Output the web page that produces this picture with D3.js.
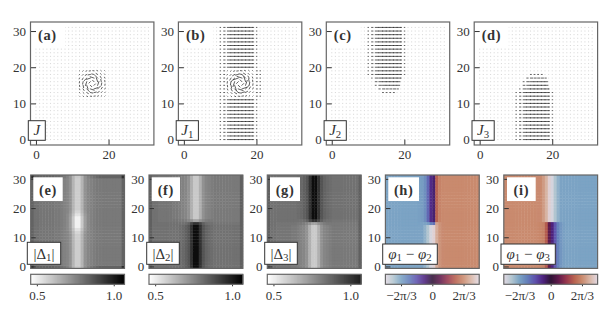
<!DOCTYPE html>
<html lang="en">
  <head>
    <meta charset="UTF-8" />
    <title>Currents and order parameters</title>
    <script src="https://d3js.org/d3.v7.min.js"></script>
    <style>
      html, body { margin: 0; padding: 0; background: #fff; }
      svg { display: block; }
      text { font-family: "Liberation Serif", serif; fill: #333; }
      .tick text { font-size: 13px; }
    </style>
  </head>
  <body>
    <svg id="canvas"></svg>
  </body>
  <script>
    // --- data ---
    let gridIndex = d3.range(32);
    let topTicks = [0, 20];
    let sideTicks = [0, 10, 20, 30];

    // current magnitude along a row, one digit per column (9 = full)
    let quiet = "00000000000000000000000000000000";
    let far = "00000000001389999982100000000000";
    let fade1 = "00000000000000222200000000000000";
    let fade2 = "00000000000003555530000000000000";
    let fade3 = "00000000000026888860000000000000";
    let fade4 = "00000000000048999970000000000000";
    let fade5 = "00000000000169999981000000000000";
    let side = "00000000001200000000210000000000";

    // which profile each row 0..31 uses
    let rowsJ = gridIndex.map(() => quiet);
    let rowsJ1 = [far, far, far, far, far, far, far, far, far, far, far, far,
      side, side, side, side, side, side, side, side,
      far, far, far, far, far, far, far, far, far, far, far, far];
    let rowsJ2 = [quiet, quiet, quiet, quiet, quiet, quiet, quiet, quiet, quiet, quiet, quiet, quiet, quiet,
      fade1, fade2, fade3, fade4, fade5,
      far, far, far, far, far, far, far, far, far, far, far, far, far, far];
    let rowsJ3 = [far, far, far, far, far, far, far, far, far, far, far, far, far, far,
      fade5, fade4, fade3, fade2, fade1,
      quiet, quiet, quiet, quiet, quiet, quiet, quiet, quiet, quiet, quiet, quiet, quiet, quiet];

    // vortex core, columns 12..19, rows 19 down to 12
    let coreCols = [12, 13, 14, 15, 16, 17, 18, 19];
    let coreRows = [19, 18, 17, 16, 15, 14, 13, 12];
    let coreU = [
      [-0.04, -0.1, -0.2, -0.3, -0.3, -0.2, -0.1, -0.04],
      [-0.08, -0.2, -0.4, -0.6, -0.6, -0.4, -0.2, -0.08],
      [-0.08, -0.24, -0.7, -1.0, -1.0, -0.7, -0.24, -0.08],
      [-0.04, -0.12, -0.34, -0.35, -0.35, -0.34, -0.12, -0.04],
      [0.04, 0.12, 0.34, 0.35, 0.35, 0.34, 0.12, 0.04],
      [0.08, 0.24, 0.7, 1.0, 1.0, 0.7, 0.24, 0.08],
      [0.08, 0.2, 0.4, 0.6, 0.6, 0.4, 0.2, 0.08],
      [0.04, 0.1, 0.2, 0.3, 0.3, 0.2, 0.1, 0.04],
    ];
    let coreV = [
      [-0.04, -0.08, -0.08, -0.04, 0.04, 0.08, 0.08, 0.04],
      [-0.1, -0.2, -0.24, -0.12, 0.12, 0.24, 0.2, 0.1],
      [-0.2, -0.4, -0.7, -0.34, 0.34, 0.7, 0.4, 0.2],
      [-0.3, -0.6, -1.0, -0.35, 0.35, 1.0, 0.6, 0.3],
      [-0.3, -0.6, -1.0, -0.35, 0.35, 1.0, 0.6, 0.3],
      [-0.2, -0.4, -0.7, -0.34, 0.34, 0.7, 0.4, 0.2],
      [-0.1, -0.2, -0.24, -0.12, 0.12, 0.24, 0.2, 0.1],
      [-0.04, -0.08, -0.08, -0.04, 0.04, 0.08, 0.08, 0.04],
    ];

    // |Delta| column profiles
    let d1Edge = [.96,.83,.83,.83,.83,.83,.83,.83,.82,.82,.80,.78,.76,.72,.64,.59,.59,.64,.72,.76,.78,.80,.82,.83,.83,.83,.83,.83,.83,.83,.83,.96];
    let d1Far = [.83,.80,.80,.79,.79,.79,.79,.79,.78,.78,.77,.76,.75,.72,.64,.58,.58,.64,.72,.75,.76,.77,.78,.78,.78,.78,.78,.78,.78,.78,.78,.83];
    let d1Mid = [.83,.80,.80,.79,.79,.79,.79,.79,.78,.78,.77,.76,.75,.71,.63,.56,.56,.63,.71,.75,.76,.77,.78,.78,.78,.78,.78,.78,.78,.78,.78,.83];
    let d1Near = [.83,.80,.80,.79,.79,.79,.79,.79,.78,.78,.77,.76,.74,.70,.61,.53,.53,.61,.70,.74,.76,.77,.78,.78,.78,.78,.78,.78,.78,.78,.78,.83];
    let d1Peak = [.83,.80,.80,.79,.79,.79,.79,.79,.78,.78,.77,.76,.74,.69,.59,.49,.49,.59,.69,.74,.76,.77,.78,.78,.78,.78,.78,.78,.78,.78,.78,.83];
    let delta1Rows = [d1Edge, d1Far, d1Far, d1Far, d1Far, d1Far, d1Far, d1Far, d1Far, d1Far,
      d1Far, d1Far, d1Mid, d1Near, d1Peak, d1Peak, d1Peak, d1Peak, d1Near, d1Mid, d1Far, d1Far,
      d1Far, d1Far, d1Far, d1Far, d1Far, d1Far, d1Far, d1Far, d1Far, d1Edge];

    let dLight = [.84,.80,.80,.79,.79,.79,.79,.79,.78,.78,.77,.76,.75,.72,.65,.59,.59,.65,.72,.75,.76,.77,.78,.78,.78,.78,.78,.78,.78,.78,.78,.84];
    let dDark = [.84,.80,.80,.80,.80,.80,.80,.80,.80,.80,.81,.82,.84,.87,.95,1.03,1.03,.95,.87,.83,.82,.81,.80,.80,.80,.80,.80,.80,.80,.80,.80,.84];
    let dStepA = [.84,.80,.80,.80,.80,.80,.80,.80,.80,.80,.80,.80,.81,.83,.90,.95,.95,.90,.84,.81,.80,.80,.79,.79,.79,.79,.79,.79,.79,.79,.79,.84];
    let dStepB = [.84,.80,.80,.79,.79,.79,.79,.79,.79,.79,.78,.78,.77,.75,.72,.68,.68,.72,.75,.77,.78,.78,.78,.78,.78,.78,.78,.78,.78,.78,.78,.84];
    let delta2Rows = [dDark, dDark, dDark, dDark, dDark, dDark, dDark, dDark, dDark, dDark, dDark, dDark, dDark, dDark, dDark,
      dStepA, dStepB, dLight, dLight, dLight, dLight, dLight, dLight, dLight, dLight, dLight, dLight, dLight, dLight, dLight, dLight, dLight];
    let delta3Rows = [dLight, dLight, dLight, dLight, dLight, dLight, dLight, dLight, dLight, dLight, dLight, dLight, dLight, dLight, dLight,
      dStepB, dStepA, dDark, dDark, dDark, dDark, dDark, dDark, dDark, dDark, dDark, dDark, dDark, dDark, dDark, dDark, dDark];

    // phase difference column profiles
    let tan = 2.09;
    let blue = -2.09;
    let h12Top = [blue,blue,blue,blue,blue,blue,blue,blue,blue,blue,blue,-2.05,-2.0,-1.8,-1.3,-.6,-.4,1.6,2.0,2.08,tan,tan,tan,tan,tan,tan,tan,tan,tan,tan,tan,tan];
    let h12Mid = [blue,blue,blue,blue,blue,blue,blue,blue,blue,blue,blue,-2.08,-2.1,-2.1,-2.0,-1.6,-1.4,2.4,2.2,2.1,tan,tan,tan,tan,tan,tan,tan,tan,tan,tan,tan,tan];
    let h12Low = [blue,blue,blue,blue,blue,blue,blue,blue,blue,blue,blue,-2.1,-2.1,-2.3,-2.6,-3.0,3.0,2.5,2.2,2.1,tan,tan,tan,tan,tan,tan,tan,tan,tan,tan,tan,tan];
    let phase12Rows = [h12Low, h12Low, h12Low, h12Low, h12Low, h12Low, h12Low, h12Low, h12Low, h12Low, h12Low, h12Low, h12Low, h12Low, h12Low,
      h12Mid, h12Top, h12Top, h12Top, h12Top, h12Top, h12Top, h12Top, h12Top, h12Top, h12Top, h12Top, h12Top, h12Top, h12Top, h12Top, h12Top];

    let h13Top = [tan,tan,tan,tan,tan,tan,tan,tan,tan,tan,tan,2.1,2.1,2.3,2.6,3.0,-3.0,-2.6,-2.3,-2.1,blue,blue,blue,blue,blue,blue,blue,blue,blue,blue,blue,blue];
    let h13Low = [tan,tan,tan,tan,tan,tan,tan,tan,tan,tan,tan,2.08,2.05,2.0,1.5,.5,-.5,-1.1,-1.6,-1.9,-2.05,blue,blue,blue,blue,blue,blue,blue,blue,blue,blue,blue];
    let phase13Rows = [h13Low, h13Low, h13Low, h13Low, h13Low, h13Low, h13Low, h13Low, h13Low, h13Low, h13Low, h13Low, h13Low, h13Low, h13Low, h13Low,
      h13Top, h13Top, h13Top, h13Top, h13Top, h13Top, h13Top, h13Top, h13Top, h13Top, h13Top, h13Top, h13Top, h13Top, h13Top, h13Top];

    let deltaBarTicks = [0.5, 1.0];
    let phaseBarTicks = [-2.094, 0, 2.094];
    let phaseBarLabels = ["\u22122\u03c0/3", "0", "2\u03c0/3"];

    // colours sampled from the phase colour bar, -pi to pi in steps of pi/6
    let phaseStops = ["#e2d9e2", "#b3c6d0", "#7ba3c4", "#6480ba", "#5f52ad", "#4f2480", "#2f1436",
      "#601a4c", "#97384e", "#b8624f", "#c98a6e", "#d8b5a5", "#e2d9e2"];

    // --- layout ---
    let width = 610;
    let height = 312;
    let svg = d3.select("svg").attr("width", width).attr("height", height);

    let defs = svg.append("defs");
    defs.append("filter").attr("id", "soft")
      .attr("x", "-2%").attr("y", "-2%").attr("width", "104%").attr("height", "104%")
      .append("feGaussianBlur").attr("stdDeviation", 0.55);

    let grayScale = d3.scaleLinear().domain([0.46, 1.07]).range(["#ffffff", "#000000"]).clamp(true);
    let phaseScale = d3
      .scaleLinear()
      .domain(phaseStops.map((c, i) => -Math.PI + (i * 2 * Math.PI) / (phaseStops.length - 1)))
      .range(phaseStops);

    let writeMath = (node, parts) => {
      parts.forEach((p) => {
        let t = node.append("tspan").text(p.t);
        if (p.italic) t.attr("font-style", "italic");
        if (p.sub) t.attr("font-size", "0.72em").attr("dy", "0.25em");
        if (p.up) t.attr("dy", "-0.18em");
      });
    };

    let drawBox = (x0, y0, x1, y1, border) => {
      let r = svg.append("rect").attr("x", x0).attr("y", y0).attr("width", x1 - x0).attr("height", y1 - y0).attr("fill", "#fff");
      if (border) r.attr("stroke", "#333").attr("stroke-width", 1);
    };

    let styleAxis = (g) => {
      g.select(".domain").remove();
      g.selectAll("line").attr("stroke", "#333").attr("stroke-width", 1);
    };

    let drawFrame = (l, t, r, b) => {
      svg.append("rect").attr("x", l).attr("y", t).attr("width", r - l).attr("height", b - t)
        .attr("fill", "none").attr("stroke", "#666").attr("stroke-width", 1.2);
    };

    // --- quiver panels ---
    let drawQuiver = (cfg) => {
      let left = cfg.left;
      let right = cfg.left + 123.4;
      let top = 22;
      let bottom = 145;
      let x = d3.scaleLinear().domain([-1.5, 32.5]).range([left, right]);
      let y = d3.scaleLinear().domain([-1.5, 32.5]).range([bottom, top]);
      let unit = x(1) - x(0);

      let arrows = [];
      gridIndex.forEach((row) => {
        gridIndex.forEach((col) => {
          let digit = +cfg.rows[row][col];
          arrows.push({ col: col, row: row, u: digit ? digit / 9 : 0.02, v: 0, weak: !digit });
        });
      });
      if (cfg.core) {
        coreRows.forEach((row, i) => {
          coreCols.forEach((col, j) => {
            let a = arrows.find((d) => d.row === row && d.col === col);
            a.u = coreU[i][j] * cfg.core;
            a.v = coreV[i][j] * cfg.core;
            a.weak = false;
          });
        });
      }

      let g = svg.append("g");
      g.selectAll("path")
        .data(arrows)
        .enter()
        .append("path")
        .attr("d", (d) => {
          let p = d3.path();
          let x0 = x(d.col);
          let y0 = y(d.row);
          p.moveTo(x0, y0);
          p.lineTo(x0 + d.u * unit * 1.02, y0 - d.v * unit * 1.02);
          return p.toString();
        })
        .attr("fill", "none")
        .attr("stroke", (d) => (d.weak ? "#a8a8a8" : "#1c1c1c"))
        .attr("stroke-width", (d) => (d.weak ? 0.45 : 0.7))
        .attr("stroke-linecap", "square");

      drawBox(left, top, left + 34.5, 48, false);

      svg.append("g")
        .attr("transform", "translate(" + left + ",0)")
        .call(d3.axisLeft(y).tickValues(sideTicks).tickSizeInner(-5.5).tickSizeOuter(0).tickPadding(4.5))
        .call(styleAxis);
      svg.append("g")
        .attr("transform", "translate(0," + bottom + ")")
        .call(d3.axisBottom(x).tickValues(topTicks).tickSizeInner(-5.5).tickSizeOuter(0).tickPadding(4.5))
        .call(styleAxis);
      drawFrame(left, top, right, bottom);

      svg.append("text").attr("x", left + 7.5).attr("y", 40)
        .attr("font-size", 14.5).attr("font-weight", "bold").attr("letter-spacing", 0.6).text(cfg.label);

      drawBox(left - 2.2, 120.7, left + cfg.boxWidth, 140.3, true);
      let name = svg.append("text").attr("x", left - 2.2 + (cfg.boxWidth + 2.2) / 2).attr("y", 135)
        .attr("text-anchor", "middle").attr("font-size", 15);
      writeMath(name, cfg.name);
    };

    // --- heat map panels ---
    let drawHeat = (cfg) => {
      let left = cfg.left;
      let right = cfg.left + 93.8;
      let top = 175;
      let bottom = 268.4;
      let x = d3.scaleBand().domain(gridIndex).range([left, right]);
      let y = d3.scaleBand().domain(gridIndex).range([bottom, top]);

      let cells = [];
      gridIndex.forEach((row) => {
        gridIndex.forEach((col) => {
          cells.push({ col: col, row: row, value: cfg.rows[row][col] });
        });
      });
      svg.append("g")
        .attr("filter", "url(#soft)")
        .selectAll("rect")
        .data(cells)
        .enter()
        .append("rect")
        .attr("x", (d) => x(d.col))
        .attr("y", (d) => y(d.row))
        .attr("width", x.bandwidth() + 0.4)
        .attr("height", y.bandwidth() + 0.4)
        .attr("fill", (d) => cfg.color(d.value));

      svg.append("g")
        .attr("transform", "translate(" + left + ",0)")
        .call(d3.axisLeft(y).tickValues(sideTicks).tickSizeInner(-5).tickSizeOuter(0).tickPadding(4.7))
        .call(styleAxis);
      drawFrame(left, top, right, bottom);

      drawBox(cfg.labelBox[0], 177.3, cfg.labelBox[1], 201, false);
      svg.append("text").attr("x", (cfg.labelBox[0] + cfg.labelBox[1]) / 2).attr("y", 195)
        .attr("text-anchor", "middle").attr("font-size", 14.5).attr("font-weight", "bold")
        .attr("letter-spacing", 0.6).text(cfg.label);

      drawBox(cfg.nameBox[0], cfg.nameTop, cfg.nameBox[1], 264.3, true);
      let name = svg.append("text").attr("x", (cfg.nameBox[0] + cfg.nameBox[1]) / 2).attr("y", 258.5)
        .attr("text-anchor", "middle").attr("font-size", 15);
      writeMath(name, cfg.name);

      // colour bar
      let barTop = 274.3;
      let barBottom = 284.3;
      let barScale = d3.scaleLinear().domain(cfg.barDomain).range([left, right]);
      svg.append("g")
        .selectAll("rect")
        .data(d3.range(left, right, 1))
        .enter()
        .append("rect")
        .attr("x", (d) => d)
        .attr("y", barTop)
        .attr("width", 1.3)
        .attr("height", barBottom - barTop)
        .attr("fill", (d) => cfg.color(barScale.invert(d + 0.5)));
      let barAxis = d3.axisBottom(barScale).tickValues(cfg.barTicks).tickSizeInner(2).tickSizeOuter(0).tickPadding(4.5);
      if (cfg.barLabels) barAxis.tickFormat((d, i) => cfg.barLabels[i]);
      else barAxis.tickFormat(d3.format(".1f"));
      svg.append("g")
        .attr("transform", "translate(0," + barBottom + ")")
        .call(barAxis)
        .call(styleAxis);
      drawFrame(left, barTop, right, barBottom);
    };

    let sub = (t) => ({ t: t, sub: true });
    let back = (t) => ({ t: t, up: true });

    drawQuiver({ left: 30.5, rows: rowsJ, core: 1, label: "(a)", boxWidth: 14.8, name: [{ t: "J", italic: true }] });
    drawQuiver({ left: 178.4, rows: rowsJ1, core: 1.3, label: "(b)", boxWidth: 20, name: [{ t: "J", italic: true }, sub("1")] });
    drawQuiver({ left: 326.3, rows: rowsJ2, label: "(c)", boxWidth: 20, name: [{ t: "J", italic: true }, sub("2")] });
    drawQuiver({ left: 474.2, rows: rowsJ3, label: "(d)", boxWidth: 20, name: [{ t: "J", italic: true }, sub("3")] });

    let deltaPanel = { color: grayScale, barDomain: [0.46, 1.07], barTicks: deltaBarTicks, nameTop: 242.3 };
    let phasePanel = { color: phaseScale, barDomain: [-Math.PI, Math.PI], barTicks: phaseBarTicks, barLabels: phaseBarLabels, nameTop: 244 };

    drawHeat({ ...deltaPanel, left: 30.7, rows: delta1Rows, label: "(e)", labelBox: [33.3, 62.7], nameBox: [27.3, 60.7], name: [{ t: "|\u0394" }, sub("1"), back("|")] });
    drawHeat({ ...deltaPanel, left: 149, rows: delta2Rows, label: "(f)", labelBox: [151.7, 180], nameBox: [146.7, 179.3], name: [{ t: "|\u0394" }, sub("2"), back("|")] });
    drawHeat({ ...deltaPanel, left: 267.3, rows: delta3Rows, label: "(g)", labelBox: [270, 300], nameBox: [264.7, 297.3], name: [{ t: "|\u0394" }, sub("3"), back("|")] });
    drawHeat({ ...phasePanel, left: 385.4, rows: phase12Rows, label: "(h)", labelBox: [388.3, 419], nameBox: [382.7, 437.3], name: [{ t: "\u03c6", italic: true }, sub("1"), back(" \u2212 "), { t: "\u03c6", italic: true }, sub("2")] });
    drawHeat({ ...phasePanel, left: 503.8, rows: phase13Rows, label: "(i)", labelBox: [507, 535.7], nameBox: [501, 555.3], name: [{ t: "\u03c6", italic: true }, sub("1"), back(" \u2212 "), { t: "\u03c6", italic: true }, sub("3")] });
  </script>
</html>
